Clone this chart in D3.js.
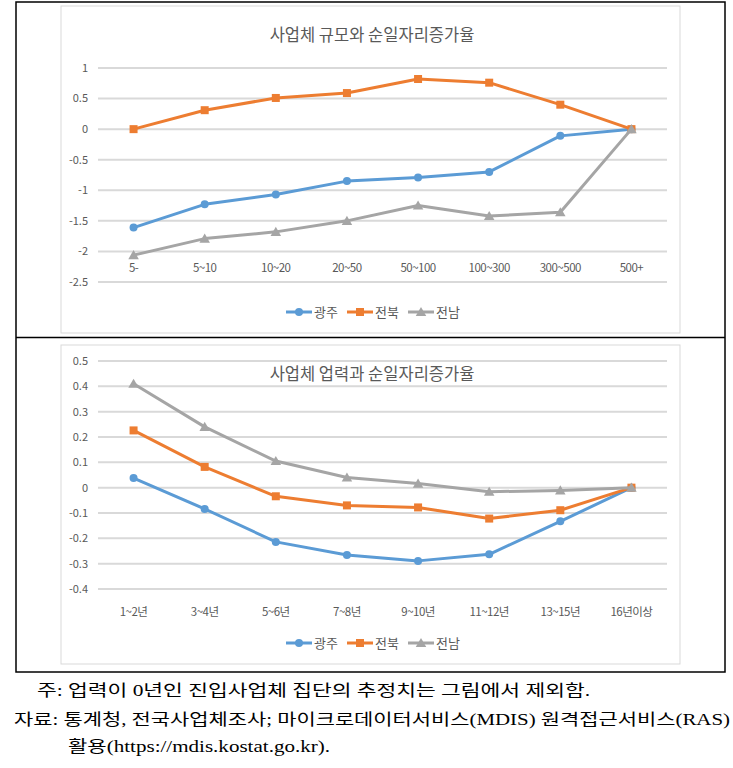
<!DOCTYPE html>
<html><head><meta charset="utf-8">
<script src="https://cdn.jsdelivr.net/npm/d3@7"></script>
<style>
body{margin:0;background:#fff;}
svg text{font-family:"Noto Sans CJK KR","Noto Sans",sans-serif;}
</style></head>
<body><svg id="c" width="733" height="768"></svg>
<script>
// ---- data ----
const seriesNames = ["광주", "전북", "전남"];
const colors = ["#5B9BD5", "#ED7D31", "#A5A5A5"];
const shapes = ["circle", "square", "triangle"];

const sizeTitle = "사업체 규모와 순일자리증가율";
const sizeCats = ["5-", "5~10", "10~20", "20~50", "50~100", "100~300", "300~500", "500+"];
const sizeGwangju = [-1.61, -1.23, -1.07, -0.85, -0.79, -0.70, -0.11, 0];
const sizeJeonbuk = [0, 0.31, 0.51, 0.59, 0.82, 0.76, 0.40, 0];
const sizeJeonnam = [-2.06, -1.79, -1.68, -1.50, -1.25, -1.42, -1.36, 0];
const sizeTicks = [1, 0.5, 0, -0.5, -1, -1.5, -2, -2.5];

const ageTitle = "사업체 업력과 순일자리증가율";
const ageCats = ["1~2년", "3~4년", "5~6년", "7~8년", "9~10년", "11~12년", "13~15년", "16년이상"];
const ageGwangju = [0.038, -0.084, -0.214, -0.266, -0.289, -0.263, -0.133, 0];
const ageJeonbuk = [0.226, 0.082, -0.034, -0.070, -0.078, -0.122, -0.089, 0];
const ageJeonnam = [0.410, 0.240, 0.105, 0.040, 0.016, -0.016, -0.011, 0];
const ageTicks = [0.5, 0.4, 0.3, 0.2, 0.1, 0, -0.1, -0.2, -0.3, -0.4];

const notes = [
  "주: 업력이 0년인 진입사업체 집단의 추정치는 그림에서 제외함.",
  "자료: 통계청, 전국사업체조사; 마이크로데이터서비스(MDIS) 원격접근서비스(RAS)",
  "활용(https://mdis.kostat.go.kr)."
];

const svg = d3.select("#c");

// outer frame
svg.append("rect").attr("x",16).attr("y",2).attr("width",709).attr("height",670)
  .attr("fill","none").attr("stroke","#000").attr("stroke-width",1.5);
svg.append("line").attr("x1",16).attr("x2",725).attr("y1",337.5).attr("y2",337.5)
  .attr("stroke","#000").attr("stroke-width",1.5);

function marker(g, shape, color, cx, cy, s) {
  if (shape === "circle") {
    g.append("circle").attr("cx",cx).attr("cy",cy).attr("r",4*s).attr("fill",color);
  } else if (shape === "square") {
    g.append("rect").attr("x",cx-4*s).attr("y",cy-4*s).attr("width",8*s).attr("height",8*s).attr("fill",color);
  } else {
    const sym = d3.symbol().type(d3.symbolTriangle).size(48*s*s);
    g.append("path").attr("d",sym()).attr("transform",`translate(${cx},${cy+1})`).attr("fill",color);
  }
}

function chart(cfg) {
  const g = svg.append("g");
  g.append("rect").attr("x",cfg.box[0]).attr("y",cfg.box[1]).attr("width",cfg.box[2]).attr("height",cfg.box[3])
    .attr("fill","#fff").attr("stroke","#D9D9D9").attr("stroke-width",1);
  const x = d3.scaleBand().domain(cfg.cats).range([98, 667]);
  const y = d3.scaleLinear().domain(cfg.domain).range(cfg.yrange);
  const cx = d => x(d) + x.bandwidth()/2;

  // gridlines
  g.selectAll(".grid").data(cfg.ticks).join("line")
    .attr("x1",98).attr("x2",667).attr("y1",d=>y(d)).attr("y2",d=>y(d))
    .attr("stroke","#D9D9D9").attr("stroke-width",2);
  // y labels
  g.selectAll(".yl").data(cfg.ticks).join("text")
    .attr("x",88).attr("y",d=>y(d)).attr("dy","0.35em").attr("text-anchor","end")
    .attr("font-size",11).attr("fill","#595959").text(d=>String(d));
  // x labels
  g.selectAll(".xl").data(cfg.cats).join("text")
    .attr("x",d=>cx(d)).attr("y",cfg.xLabelY).attr("dy","0.35em").attr("text-anchor","middle")
    .attr("font-size",11.5).attr("fill","#595959").attr("letter-spacing",-0.5).text(d=>d);
  // title
  g.append("text").attr("x",372).attr("y",cfg.titleY).attr("dy","0.35em").attr("text-anchor","middle")
    .attr("font-size",16.5).attr("fill","#595959").text(cfg.title);

  const line = d3.line().x((d,i)=>cx(cfg.cats[i])).y(d=>y(d));
  cfg.series.forEach((vals, si) => {
    g.append("path").attr("d", line(vals)).attr("fill","none")
      .attr("stroke",colors[si]).attr("stroke-width",3).attr("stroke-linejoin","round");
    vals.forEach((v,i) => marker(g, shapes[si], colors[si], cx(cfg.cats[i]), y(v), 1));
  });

  // legend
  const lx = [286, 347, 408];
  seriesNames.forEach((n, si) => {
    const lg = g.append("g");
    lg.append("line").attr("x1",lx[si]).attr("x2",lx[si]+26).attr("y1",cfg.legendY).attr("y2",cfg.legendY)
      .attr("stroke",colors[si]).attr("stroke-width",3);
    marker(lg, shapes[si], colors[si], lx[si]+13, cfg.legendY, 1);
    lg.append("text").attr("x",lx[si]+28).attr("y",cfg.legendY).attr("dy","0.35em")
      .attr("font-size",13).attr("fill","#595959").text(n);
  });
}

chart({
  box:[61,6,619,327], cats:sizeCats, domain:[1,-2.5], yrange:[68,282], ticks:sizeTicks,
  series:[sizeGwangju,sizeJeonbuk,sizeJeonnam], title:sizeTitle, titleY:35, xLabelY:268, legendY:312
});
chart({
  box:[61,345,619,319], cats:ageCats, domain:[0.5,-0.4], yrange:[361,589], ticks:ageTicks,
  series:[ageGwangju,ageJeonbuk,ageJeonnam], title:ageTitle, titleY:374, xLabelY:612, legendY:643
});

// notes
const nf = '"Liberation Serif","DejaVu Serif","Noto Sans CJK KR",serif';
svg.append("text").attr("x",37).attr("y",690).attr("dy","0.35em").attr("font-size",16)
  .style("font-family",nf).attr("fill","#000").attr("textLength",553).attr("lengthAdjust","spacingAndGlyphs").text(notes[0]);
svg.append("text").attr("x",14).attr("y",719).attr("dy","0.35em").attr("font-size",16)
  .style("font-family",nf).attr("fill","#000").attr("textLength",716).attr("lengthAdjust","spacingAndGlyphs").text(notes[1]);
svg.append("text").attr("x",68).attr("y",746).attr("dy","0.35em").attr("font-size",16)
  .style("font-family",nf).attr("fill","#000").attr("textLength",262).attr("lengthAdjust","spacingAndGlyphs").text(notes[2]);
</script></body></html>
